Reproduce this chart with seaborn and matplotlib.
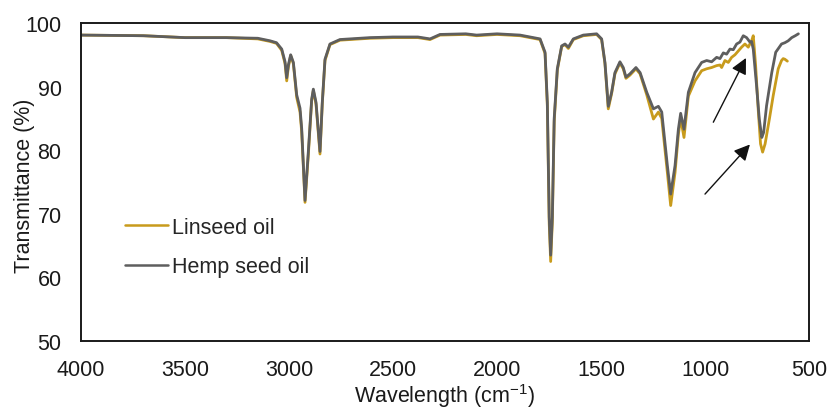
import numpy as np
import pandas as pd
import matplotlib
matplotlib.use("Agg")
import matplotlib.pyplot as plt
import seaborn as sns

# ---- data ----
wn_linseed = [4000, 3700, 3500, 3300, 3150, 3091, 3060, 3035, 3019, 3011, 3003, 2992, 2979, 2963,
              2947, 2939, 2923, 2907, 2891, 2883, 2870, 2851, 2840, 2827, 2803, 2755, 2611, 2500,
              2380, 2322, 2274, 2150, 2098, 2000, 1889, 1793, 1769, 1758, 1749, 1742, 1734, 1725,
              1710, 1689, 1673, 1657, 1633, 1585, 1521, 1497, 1481, 1465, 1449, 1433, 1409, 1393,
              1380, 1361, 1332, 1312, 1280, 1248, 1224, 1208, 1181, 1165, 1144, 1128, 1117, 1101,
              1080, 1048, 1016, 992, 968, 944, 928, 920, 904, 888, 872, 856, 840, 824, 808, 792,
              776, 768, 757, 744, 733, 723, 711, 690, 672, 648, 632, 624, 616, 608, 604]
t_linseed = [98.1, 98.0, 97.7, 97.7, 97.5, 97.1, 96.8, 95.7, 93.6, 90.9, 93.1, 94.9, 93.6, 88.3,
             86.0, 82.9, 71.8, 79.3, 87.8, 89.4, 87.2, 79.4, 87.3, 94.1, 96.6, 97.3, 97.6, 97.7,
             97.7, 97.4, 98.1, 98.2, 98.0, 98.2, 98.0, 97.4, 95.2, 87.0, 68.5, 62.5, 68.7, 84.5,
             92.6, 96.3, 96.6, 96.0, 97.4, 98.0, 98.2, 97.4, 93.6, 86.5, 88.9, 92.0, 93.7, 92.8,
             91.3, 91.8, 92.8, 92.0, 88.7, 84.9, 86.0, 85.0, 76.5, 71.3, 76.5, 82.5, 85.0, 82.0,
             88.5, 90.9, 92.5, 92.8, 93.0, 93.3, 93.4, 93.0, 94.1, 93.8, 94.6, 95.0, 95.6, 96.2,
             96.7, 96.2, 97.2, 98.0, 93.5, 86.3, 81.0, 79.7, 81.0, 85.0, 88.6, 92.8, 94.1, 94.4,
             94.3, 94.1, 94.0]

wn_hemp = [4000, 3700, 3500, 3300, 3150, 3091, 3060, 3035, 3019, 3011, 3003, 2992, 2979, 2963,
           2947, 2939, 2923, 2907, 2891, 2883, 2870, 2851, 2840, 2827, 2803, 2755, 2611, 2500,
           2380, 2322, 2274, 2150, 2098, 2000, 1889, 1793, 1769, 1758, 1749, 1742, 1734, 1725,
           1710, 1689, 1673, 1657, 1633, 1585, 1521, 1497, 1481, 1465, 1449, 1433, 1409, 1393,
           1380, 1361, 1332, 1312, 1280, 1248, 1224, 1208, 1181, 1165, 1144, 1128, 1117, 1101,
           1080, 1048, 1016, 992, 968, 944, 928, 912, 896, 880, 864, 848, 832, 816, 800, 784,
           776, 768, 752, 739, 727, 718, 704, 679, 660, 632, 616, 600, 583, 566, 551]
t_hemp = [98.1, 98.0, 97.7, 97.7, 97.6, 97.2, 96.9, 95.9, 93.9, 91.4, 93.4, 95.0, 93.8, 88.7,
          86.6, 83.4, 72.1, 79.8, 88.0, 89.6, 87.5, 79.8, 87.5, 94.3, 96.7, 97.4, 97.7, 97.8,
          97.8, 97.5, 98.2, 98.3, 98.1, 98.3, 98.1, 97.5, 95.4, 87.5, 69.5, 63.5, 69.5, 85.0,
          92.8, 96.4, 96.7, 96.2, 97.5, 98.1, 98.3, 97.5, 93.8, 86.9, 89.1, 92.2, 93.9, 93.0,
          91.5, 92.0, 93.0, 92.2, 89.1, 86.5, 86.9, 86.0, 77.6, 73.1, 77.6, 83.3, 85.8, 83.3,
          89.1, 92.2, 93.8, 94.1, 93.9, 94.6, 94.4, 95.3, 95.1, 95.9, 95.8, 96.7, 97.0, 98.0,
          97.7, 97.0, 97.1, 95.9, 90.1, 84.9, 82.0, 82.8, 87.0, 92.2, 95.4, 96.7, 96.9, 97.2,
          97.7, 98.0, 98.3]

series_names = ["Linseed oil", "Hemp seed oil"]
x_ticks = [4000, 3500, 3000, 2500, 2000, 1500, 1000, 500]
y_ticks = [50, 60, 70, 80, 90, 100]

# arrows (data coordinates: tail -> tip)
arrow1 = ((960, 84.4), (803, 94.5))
arrow2 = ((1000, 73.1), (784, 80.9))

# ---- style ----
sns.set_style("white")
plt.rcParams["font.family"] = ["Liberation Sans", "DejaVu Sans"]
plt.rcParams["mathtext.fontset"] = "custom"
plt.rcParams["mathtext.rm"] = "Liberation Sans"
plt.rcParams["mathtext.it"] = "Liberation Sans:italic"
plt.rcParams["mathtext.bf"] = "Liberation Sans:bold"

df = pd.concat([
    pd.DataFrame({"wn": wn_linseed, "T": t_linseed, "series": series_names[0]}),
    pd.DataFrame({"wn": wn_hemp, "T": t_hemp, "series": series_names[1]}),
], ignore_index=True)

palette = {series_names[0]: "#C89B1C", series_names[1]: "#5E5E5E"}

fig = plt.figure(figsize=(8.27, 4.10), dpi=100)
ax = fig.add_axes([81/827, 1-342/410, 728/827, 318/410])

sns.lineplot(data=df, x="wn", y="T", hue="series", palette=palette, estimator=None,
             sort=False, linewidth=2.0, ax=ax)
for ln in ax.get_lines():
    ln.set_solid_joinstyle("round")
    ln.set_solid_capstyle("round")

ax.set_xlim(4000, 500)
ax.set_ylim(50, 100)
ax.set_xticks(x_ticks)
ax.set_yticks(y_ticks)
ax.tick_params(axis="both", length=0, labelsize=15.5, colors="#1a1a1a")
ax.tick_params(axis="x", pad=13)
ax.tick_params(axis="y", pad=14)
for s in ax.spines.values():
    s.set_visible(True)
    s.set_color("#1a1a1a")
    s.set_linewidth(1.4)

ax.set_xlabel("Wavelength (cm$^{-1}$)", fontsize=15.5, color="#1a1a1a")
ax.set_ylabel("Transmittance (%)", fontsize=15.5, color="#1a1a1a")
ax.xaxis.set_label_coords(0.5, -0.127)
ax.yaxis.set_label_coords(-0.063, 0.49)

for tail, tip in (arrow1, arrow2):
    ax.annotate("", xy=tip, xytext=tail,
                arrowprops=dict(arrowstyle="-|>", color="#111111", lw=1.0,
                                mutation_scale=24, shrinkA=0, shrinkB=0))

leg = ax.legend(loc="upper left", bbox_to_anchor=(0.0604, 0.39), frameon=False,
                fontsize=15.5, handlelength=2.0, handletextpad=0.2, labelspacing=0.85,
                borderpad=0, borderaxespad=0)
for h in leg.get_lines():
    h.set_linewidth(1.8)

fig.savefig("out.png", dpi=100)
